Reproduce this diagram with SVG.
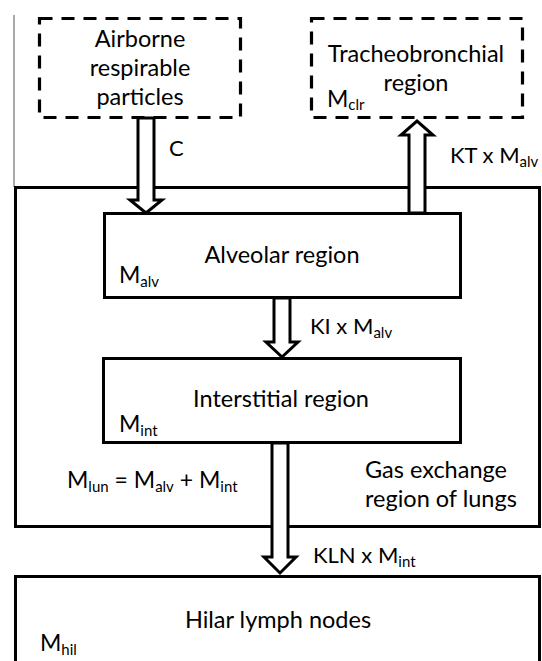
<svg xmlns="http://www.w3.org/2000/svg" width="542" height="661" viewBox="0 0 542 661">
<style>
text{font-family:Lato,"Open Sans","Liberation Sans",sans-serif;font-size:22px;fill:#000}
.t{font-size:23.5px}
.m{font-size:23px}
.mid{text-anchor:middle}
.sub{font-size:15px}
.box{fill:#fff;stroke:#000;stroke-width:3}
.dash{fill:#fff;stroke:#000;stroke-width:3.2;stroke-dasharray:13 9}
.arrow{fill:#fff;stroke:#000;stroke-width:3;stroke-linejoin:miter}
</style>
<rect width="542" height="661" fill="#fff"/>
<line x1="14" y1="15" x2="14" y2="187" stroke="#555" stroke-width="1"/>
<g id="gas-exchange">
<rect class="box" x="15.5" y="187.5" width="524" height="339"/>
<text class="t" x="365" y="478">Gas exchange</text>
<text class="t" x="365" y="507">region of lungs</text>
<text class="m" x="67" y="488">M<tspan class="sub" dy="4">lun</tspan><tspan dy="-4"> = M</tspan><tspan class="sub" dy="4">alv</tspan><tspan dy="-4"> + M</tspan><tspan class="sub" dy="4">int</tspan></text>
</g>
<g id="airborne">
<rect class="dash" x="39.5" y="18.5" width="201" height="99"/>
<text class="t mid" x="140" y="47">Airborne</text>
<text class="t mid" x="140" y="76">respirable</text>
<text class="t mid" x="140" y="105">particles</text>
</g>
<g id="tracheobronchial">
<rect class="dash" x="311.5" y="18.5" width="211" height="99"/>
<text class="t mid" x="416" y="62">Tracheobronchial</text>
<text class="t mid" x="416" y="91">region</text>
<text class="m" x="327" y="107">M<tspan class="sub" dy="3">clr</tspan></text>
</g>
<g id="alveolar">
<rect class="box" x="104.5" y="213.5" width="356" height="84"/>
<text class="t mid" x="282" y="263">Alveolar region</text>
<text class="m" x="119" y="283">M<tspan class="sub" dy="4">alv</tspan></text>
</g>
<g id="interstitial">
<rect class="box" x="103.5" y="358.5" width="357" height="84"/>
<text class="t mid" x="281" y="407">Interstitial region</text>
<text class="m" x="119" y="432">M<tspan class="sub" dy="4">int</tspan></text>
</g>
<g id="hilar">
<rect class="box" x="15.5" y="576.5" width="524" height="100"/>
<text class="t mid" x="278" y="628">Hilar lymph nodes</text>
<text class="m" x="40" y="651">M<tspan class="sub" dy="4">hil</tspan></text>
</g>
<g id="connectors">
<polygon class="arrow" points="138,118 154,118 154,200 162,200 146,213 130,200 138,200"/>
<text x="169" y="156">C</text>
<polygon class="arrow" points="409,213 425,213 425,135 433,135 417,121 401,135 409,135"/>
<text x="450" y="163">KT x M<tspan class="sub" dy="4">alv</tspan></text>
<polygon class="arrow" points="274,298 290,298 290,342 298,342 282,357 266,342 274,342"/>
<text x="310" y="334">KI x M<tspan class="sub" dy="4">alv</tspan></text>
<polygon class="arrow" points="272,443 288,443 288,557 296,557 280,573 264,557 272,557"/>
<text x="313" y="563">KLN x M<tspan class="sub" dy="4">int</tspan></text>
</g>
</svg>
